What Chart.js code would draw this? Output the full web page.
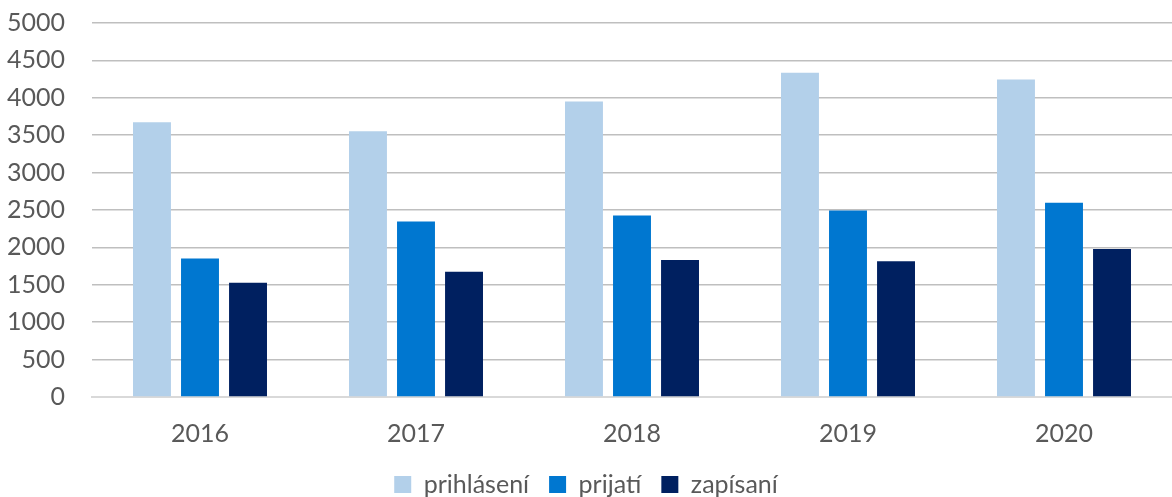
<!DOCTYPE html>
<html>
<head>
<meta charset="utf-8">
<script src="https://cdn.jsdelivr.net/npm/chart.js@4.4.1/dist/chart.umd.min.js"></script>
<style>
  body { margin: 0; background: #fff; }
  #wrap { width: 1172px; height: 497px; position: relative; }
</style>
</head>
<body>
<div id="wrap"><canvas id="chart"></canvas></div>
<script>
const years = ['2016', '2017', '2018', '2019', '2020'];
const prihlaseni = [3673, 3552, 3950, 4334, 4245];
const prijati = [1850, 2346, 2426, 2493, 2597];
const zapisani = [1528, 1676, 1832, 1814, 1980];

const font = { family: 'Lato', size: 25 };
const textColor = '#595959';

new Chart(document.querySelector('#chart').getContext('2d'), {
    type: 'bar',
    data: {
        labels: years,
        datasets: [
            { label: 'prihlásení', data: prihlaseni, backgroundColor: '#b3d0ea' },
            { label: 'prijatí', data: prijati, backgroundColor: '#0077d0' },
            { label: 'zapísaní', data: zapisani, backgroundColor: '#002060' }
        ]
    },
    options: {
        responsive: true,
        maintainAspectRatio: false,
        animation: false,
        categoryPercentage: 0.667,
        barPercentage: 0.79,
        layout: { padding: { top: 23, right: 0, bottom: -10, left: 0 } },
        plugins: {
            tooltip: { enabled: false },
            legend: {
                position: 'bottom',
                labels: {
                    color: textColor,
                    font: { family: 'Lato', size: 25, lineHeight: 1 },
                    boxWidth: 17,
                    boxHeight: 17,
                    padding: 20
                }
            }
        },
        scales: {
            x: {
                afterFit: (scale) => { scale.height = 55; scale.paddingLeft = 0; scale.paddingRight = 0; },
                grid: { display: false, drawTicks: false },
                border: { color: '#d9d9d9', width: 2 },
                ticks: { color: textColor, font: font, padding: 22 }
            },
            y: {
                min: 0,
                max: 5000,
                afterFit: (scale) => { scale.width = 92; scale.paddingTop = 0; scale.paddingBottom = 0; },
                grid: { color: '#bfbfbf', lineWidth: 1.5, drawTicks: false },
                border: { display: false },
                ticks: {
                    stepSize: 500, color: textColor, font: font, padding: 27,
                    callback: (v) => String(v)
                }
            }
        }
    }
});
</script>
</body>
</html>
